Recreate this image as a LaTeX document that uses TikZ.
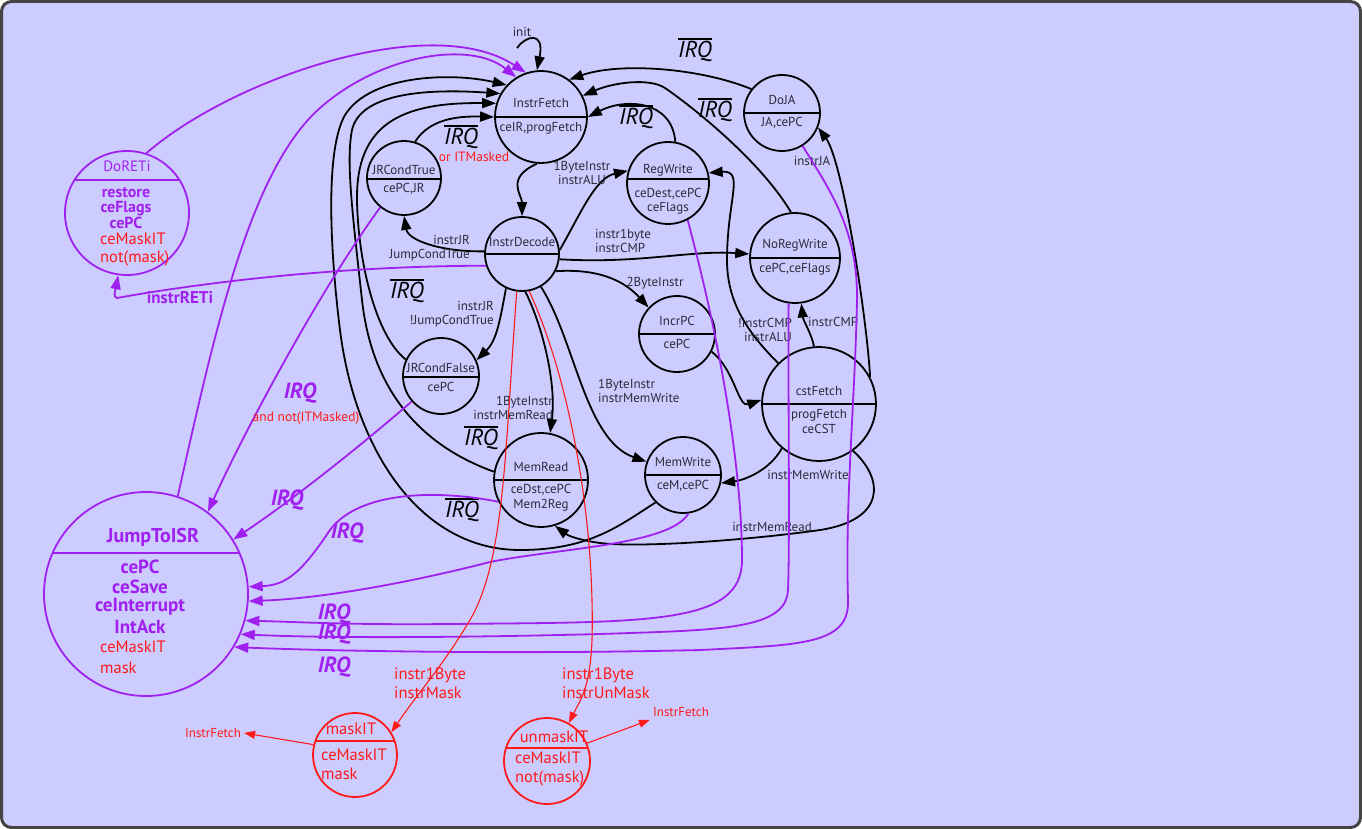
\documentclass[tikz,border=0pt]{standalone}
\usepackage{fontspec}
\setmainfont{PT Sans}
\usetikzlibrary{arrows.meta}
\definecolor{bgc}{HTML}{CCCCFF}
\definecolor{framec}{HTML}{444444}
\definecolor{pur}{HTML}{A020F0}
\definecolor{rd}{HTML}{FF1A1A}
\definecolor{txt}{HTML}{2B2B3B}
\newcommand\stshape[5]{%
  \node[circle,draw=#5,line width=1.8pt,minimum size={2*#3},inner sep=0pt] (#1) at (#2) {};
  \pgfmathsetmacro\hw{sqrt(#3*#3-#4*#4)}%
  \draw[#5,line width=1.8pt] ([xshift=-\hw pt,yshift=#4 pt]#1.center) -- ([xshift=\hw pt,yshift=#4 pt]#1.center);
}
\newcommand\ovIRQ{\vbox{\hrule height 1.6pt\kern2pt\hbox{\itshape IRQ}}}
\tikzset{
  lbl/.style={font=\fontsize{13}{14.5}\selectfont, text=txt, inner sep=1pt},
  edge/.style={draw=black, line width=1.8pt, -{Triangle[length=14pt,width=10pt]}},
  pedge/.style={draw=pur, line width=1.8pt, -{Triangle[length=14pt,width=10pt]}},
  redge/.style={draw=rd, line width=1.1pt, -{Triangle[length=11pt,width=8pt]}},
  irqb/.style={font=\fontsize{23}{24}\selectfont, text=black, inner sep=0pt},
  irqp/.style={font=\fontsize{22}{24}\selectfont\bfseries\itshape, text=pur, inner sep=0pt},
  plbl/.style={font=\fontsize{16}{17}\selectfont\bfseries, text=pur, inner sep=0pt},
  jlbl/.style={font=\fontsize{19}{20}\selectfont\bfseries, text=pur, inner sep=0pt},
  rlbl/.style={font=\fontsize{16.5}{19}\selectfont, text=rd, inner sep=0pt},
}
\begin{document}
\begin{tikzpicture}[x=1pt,y=-1pt]
\useasboundingbox (0,0) rectangle (1362,829);
\fill[bgc, draw=framec, line width=3pt, rounded corners=10pt] (1.5,1.5) rectangle (1360.5,827.5);

% states
\stshape{InstrFetch}{541,117}{46}{0}{black}
\stshape{JRCondTrue}{404,178}{37}{-1}{black}
\stshape{RegWrite}{668,183}{41}{4}{black}
\stshape{DoJA}{782,113}{38}{0}{black}
\stshape{InstrDecode}{522,254}{37}{0}{black}
\stshape{NoRegWrite}{795,258}{45}{0}{black}
\stshape{IncrPC}{677,334}{38}{0}{black}
\stshape{JRCondFalse}{441,376}{38}{-1}{black}
\stshape{cstFetch}{819,404}{57}{0}{black}
\stshape{MemRead}{541,480}{47}{0}{black}
\stshape{MemWrite}{683,475}{38}{0}{black}
\stshape{DoRETi}{127,213}{62}{33}{pur}
\stshape{JumpToISR}{146,594}{102}{41}{pur}
\stshape{maskIT}{355,755}{42}{14}{rd}
\stshape{unmaskIT}{547,761}{43}{13}{rd}

% state texts
\node[lbl] (t-if1) at (541,103) {InstrFetch};
\node[lbl] (t-if2) at (541,128) {ceIR,progFetch};
\node[lbl] (t-jt1) at (404,170) {JRCondTrue};
\node[lbl] (t-jt2) at (404,189) {cePC,JR};
\node[lbl] (t-rw1) at (668,170) {RegWrite};
\node[lbl] (t-rw2) at (668,194) {ceDest,cePC};
\node[lbl] (t-rw3) at (668,208) {ceFlags};
\node[lbl] (t-dj1) at (782,100) {DoJA};
\node[lbl] (t-dj2) at (782,123) {JA,cePC};
\node[lbl] (t-id1) at (522,242) {InstrDecode};
\node[lbl] (t-nr1) at (795,245) {NoRegWrite};
\node[lbl] (t-nr2) at (795,269) {cePC,ceFlags};
\node[lbl] (t-ip1) at (677,321) {IncrPC};
\node[lbl] (t-ip2) at (677,344) {cePC};
\node[lbl] (t-jf1) at (441,368) {JRCondFalse};
\node[lbl] (t-jf2) at (441,387) {cePC};
\node[lbl] (t-cf1) at (819,391) {cstFetch};
\node[lbl] (t-cf2) at (819,415) {progFetch};
\node[lbl] (t-cf3) at (819,429) {ceCST};
\node[lbl] (t-mr1) at (541,467) {MemRead};
\node[lbl] (t-mr2) at (541,490) {ceDst,cePC};
\node[lbl] (t-mr3) at (541,505) {Mem2Reg};
\node[lbl] (t-mw1) at (683,462) {MemWrite};
\node[lbl] (t-mw2) at (683,486) {ceM,cePC};

\node[font=\fontsize{15}{16}\selectfont, text=pur, inner sep=0pt] (t-dr1) at (127,166) {DoRETi};
\node[plbl] (t-dr2) at (126,193) {restore};
\node[plbl] (t-dr3) at (126,208.5) {ceFlags};
\node[plbl] (t-dr4) at (126,223) {cePC};
\node[rlbl,anchor=west] (t-dr5) at (100,239) {ceMaskIT};
\node[rlbl,anchor=west] (t-dr6) at (100,258) {not(mask)};

\node[jlbl,font=\fontsize{20}{21}\selectfont\bfseries] (t-js1) at (153,537) {JumpToISR};
\node[jlbl] (t-js2) at (140,567) {cePC};
\node[jlbl] (t-js3) at (140,587) {ceSave};
\node[jlbl] (t-js4) at (140,607) {ceInterrupt};
\node[jlbl] (t-js5) at (140,627) {IntAck};
\node[rlbl,anchor=west] (t-js6) at (100,647) {ceMaskIT};
\node[rlbl,anchor=west] (t-js7) at (100,668) {mask};

\node[rlbl] (t-mk1) at (351,729) {maskIT};
\node[rlbl,anchor=west] (t-mk2) at (321,755) {ceMaskIT};
\node[rlbl,anchor=west] (t-mk3) at (321,774) {mask};
\node[rlbl] (t-um1) at (554,737) {unmaskIT};
\node[rlbl,anchor=west] (t-um2) at (515,758) {ceMaskIT};
\node[rlbl,anchor=west] (t-um3) at (515,778) {not(mask)};

\node[font=\fontsize{13}{14}\selectfont, text=rd, inner sep=3pt] (lfetch) at (213,733) {InstrFetch};
\node[font=\fontsize{13}{14}\selectfont, text=rd, inner sep=3pt] (rfetch) at (681,712) {InstrFetch};

% black edges
\coordinate (initc) at (517,48);
\draw[edge] (initc) .. controls (525,36) and (545,30) .. (InstrFetch.95);
\node[lbl] (l-init) at (522,32) {init};
\draw[edge] (InstrFetch.265) .. controls (505,178) and (522,195) .. (InstrDecode.90);
\draw[edge] (InstrDecode.176) .. controls (440,252) and (408,240) .. (JRCondTrue.270);
\draw[edge] (JRCondTrue.73) .. controls (430,118) and (460,116) .. (InstrFetch.180);
\draw[edge] (InstrDecode.6) .. controls (580,215) and (595,178) .. (RegWrite.163);
\draw[edge] (RegWrite.80) .. controls (672,100) and (625,98) .. (InstrFetch.0);
\draw[edge] (InstrDecode.-8) .. controls (640,264) and (690,250) .. (NoRegWrite.175);
\draw[edge] (InstrDecode.-27) .. controls (605,268) and (628,285) .. (IncrPC.137);
\draw[edge] (InstrDecode.245) .. controls (500,320) and (497,340) .. (JRCondFalse.24);
\draw[edge] (InstrDecode.275) .. controls (540,320) and (557,380) .. (MemRead.79);
\draw[edge] (InstrDecode.300) .. controls (575,340) and (585,440) .. (MemWrite.160);
\draw[edge] (IncrPC.333) .. controls (735,370) and (738,408) .. (cstFetch.176);
\draw[edge] (cstFetch.95) .. controls (812,335) and (803,320) .. (NoRegWrite.278);
\draw[edge] (cstFetch.135) .. controls (745,330) and (727,300) .. (727,260) .. controls (727,200) and (745,170) .. (RegWrite.14);
\draw[edge] (cstFetch.28) .. controls (866,310) and (842,160) .. (DoJA.338);
\draw[edge] (cstFetch.230) .. controls (770,470) and (745,480) .. (MemWrite.348);
\draw[edge] (cstFetch.306) .. controls (885,480) and (885,520) .. (820,530) .. controls (750,540) and (640,548) .. (600,543) .. controls (585,541) and (570,537) .. (MemRead.287);
\draw[edge] (DoJA.142) .. controls (700,68) and (620,62) .. (InstrFetch.53);
\draw[edge] (NoRegWrite.95) .. controls (760,160) and (690,105) .. (665,88) .. controls (650,78) and (615,82) .. (InstrFetch.27);
\draw[edge] (JRCondFalse.155) .. controls (375,335) and (358,260) .. (357,200) .. controls (356,125) and (400,102) .. (InstrFetch.163);
\draw[edge] (MemRead.170) .. controls (420,445) and (372,390) .. (362,300) .. controls (352,210) and (346,160) .. (352,130) .. controls (360,95) and (420,88) .. (InstrFetch.150);
\draw[edge] (MemWrite.225) .. controls (620,525) and (590,550) .. (520,550) .. controls (420,550) and (355,450) .. (340,330) .. controls (330,250) and (325,150) .. (345,115) .. controls (370,75) and (450,72) .. (InstrFetch.137);

% black labels
\node[lbl,align=center] (l-1b) at (582,173) {1ByteInstr\\instrALU};
\node[lbl,align=right,anchor=east] (l-jt) at (471,248) {instrJR\\JumpCondTrue};
\node[lbl,align=left,anchor=west] (l-nr) at (594,241) {instr1byte\\instrCMP};
\node[lbl] (l-2b) at (655,283) {2ByteInstr};
\node[lbl,align=right,anchor=east] (l-jf) at (495,314) {instrJR\\!JumpCondTrue};
\node[lbl,align=right,anchor=east] (l-mr) at (554,408) {1ByteInstr\\instrMemRead};
\node[lbl,align=left,anchor=west] (l-mw) at (597,391) {1ByteInstr\\instrMemWrite};
\node[lbl,align=right,anchor=east] (l-rw) at (793,330) {!instrCMP\\instrALU};
\node[lbl,anchor=west] (l-cmp) at (807,322) {instrCMP};
\node[lbl] (l-ja) at (812,161) {instrJA};
\node[lbl] (l-cmw) at (808,475) {instrMemWrite};
\node[lbl] (l-cmr) at (772,527) {instrMemRead};
\node[irqb] (q1) at (461,137) {\ovIRQ};
\node[font=\fontsize{13.5}{14}\selectfont, text=rd, inner sep=0pt] (q1b) at (474,157) {or ITMasked};
\node[irqb] (q2) at (636,117) {\ovIRQ};
\node[irqb] (q3) at (695,50) {\ovIRQ};
\node[irqb] (q4) at (715,110) {\ovIRQ};
\node[irqb] (q5) at (407,291) {\ovIRQ};
\node[irqb] (q6) at (481,438) {\ovIRQ};
\node[irqb] (q7) at (462,510) {\ovIRQ};

% purple edges
\draw[pedge] (DoRETi.72) .. controls (230,80) and (430,10) .. (InstrFetch.109);
\draw[pedge] (JumpToISR.72) .. controls (215,330) and (250,170) .. (320,108) .. controls (380,55) and (470,40) .. (InstrFetch.122);
\draw[pedge] (InstrDecode.198) .. controls (300,266) and (150,292) .. (117,298) .. controls (113,297) and (115,292) .. (DoRETi.262);
\draw[pedge] (JRCondTrue.231) .. controls (320,290) and (245,430) .. (JumpToISR.53);
\draw[pedge] (JRCondFalse.221) .. controls (350,455) and (285,505) .. (JumpToISR.32);
\draw[pedge] (MemRead.207) .. controls (440,490) and (360,490) .. (330,530) .. controls (300,575) and (285,585) .. (JumpToISR.4);
\draw[pedge] (MemWrite.278) .. controls (670,545) and (560,548) .. (490,562) .. controls (420,580) and (330,598) .. (JumpToISR.-4);
\draw[pedge] (RegWrite.298) .. controls (725,360) and (742,480) .. (742,560) .. controls (742,625) and (650,622) .. (450,624) .. controls (350,625) and (300,622) .. (JumpToISR.-15);
\draw[pedge] (NoRegWrite.262) .. controls (788,400) and (790,540) .. (788,590) .. controls (786,630) and (720,630) .. (600,634) .. controls (450,638) and (320,638) .. (JumpToISR.-23);
\draw[pedge] (DoJA.302) .. controls (830,190) and (858,230) .. (857,300) .. controls (855,400) and (845,500) .. (848,600) .. controls (850,645) and (800,645) .. (700,650) .. controls (500,655) and (300,650) .. (JumpToISR.-31);

% purple labels
\node[font=\fontsize{17}{18}\selectfont\bfseries, text=pur, inner sep=0pt] (l-reti) at (180,298) {instrRETi};
\node[irqp] (p1) at (300,393) {IRQ};
\node[font=\fontsize{13.5}{14}\selectfont, text=rd, inner sep=0pt] (p1b) at (306,418) {and not(ITMasked)};
\node[irqp] (p2) at (287,500) {IRQ};
\node[irqp] (p3) at (347,533) {IRQ};
\node[irqp] (p4) at (334,614) {IRQ};
\node[irqp] (p5) at (334,634) {IRQ};
\node[irqp] (p6) at (334,667) {IRQ};

% red edges
\draw[redge] (InstrDecode.262) .. controls (505,450) and (505,560) .. (470,620) .. controls (440,670) and (420,690) .. (maskIT.32);
\draw[redge] (InstrDecode.281) .. controls (570,380) and (595,520) .. (592,640) .. controls (590,690) and (580,700) .. (unmaskIT.60);
\draw[redge] (maskIT.166) -- (lfetch.east);
\draw[redge] (unmaskIT.24) -- (rfetch.south west);
\node[rlbl,align=left,anchor=west] (l-mask) at (394,683) {instr1Byte\\instrMask};
\node[rlbl,align=left,anchor=west] (l-umask) at (562,683) {instr1Byte\\instrUnMask};
\end{tikzpicture}
\end{document}
